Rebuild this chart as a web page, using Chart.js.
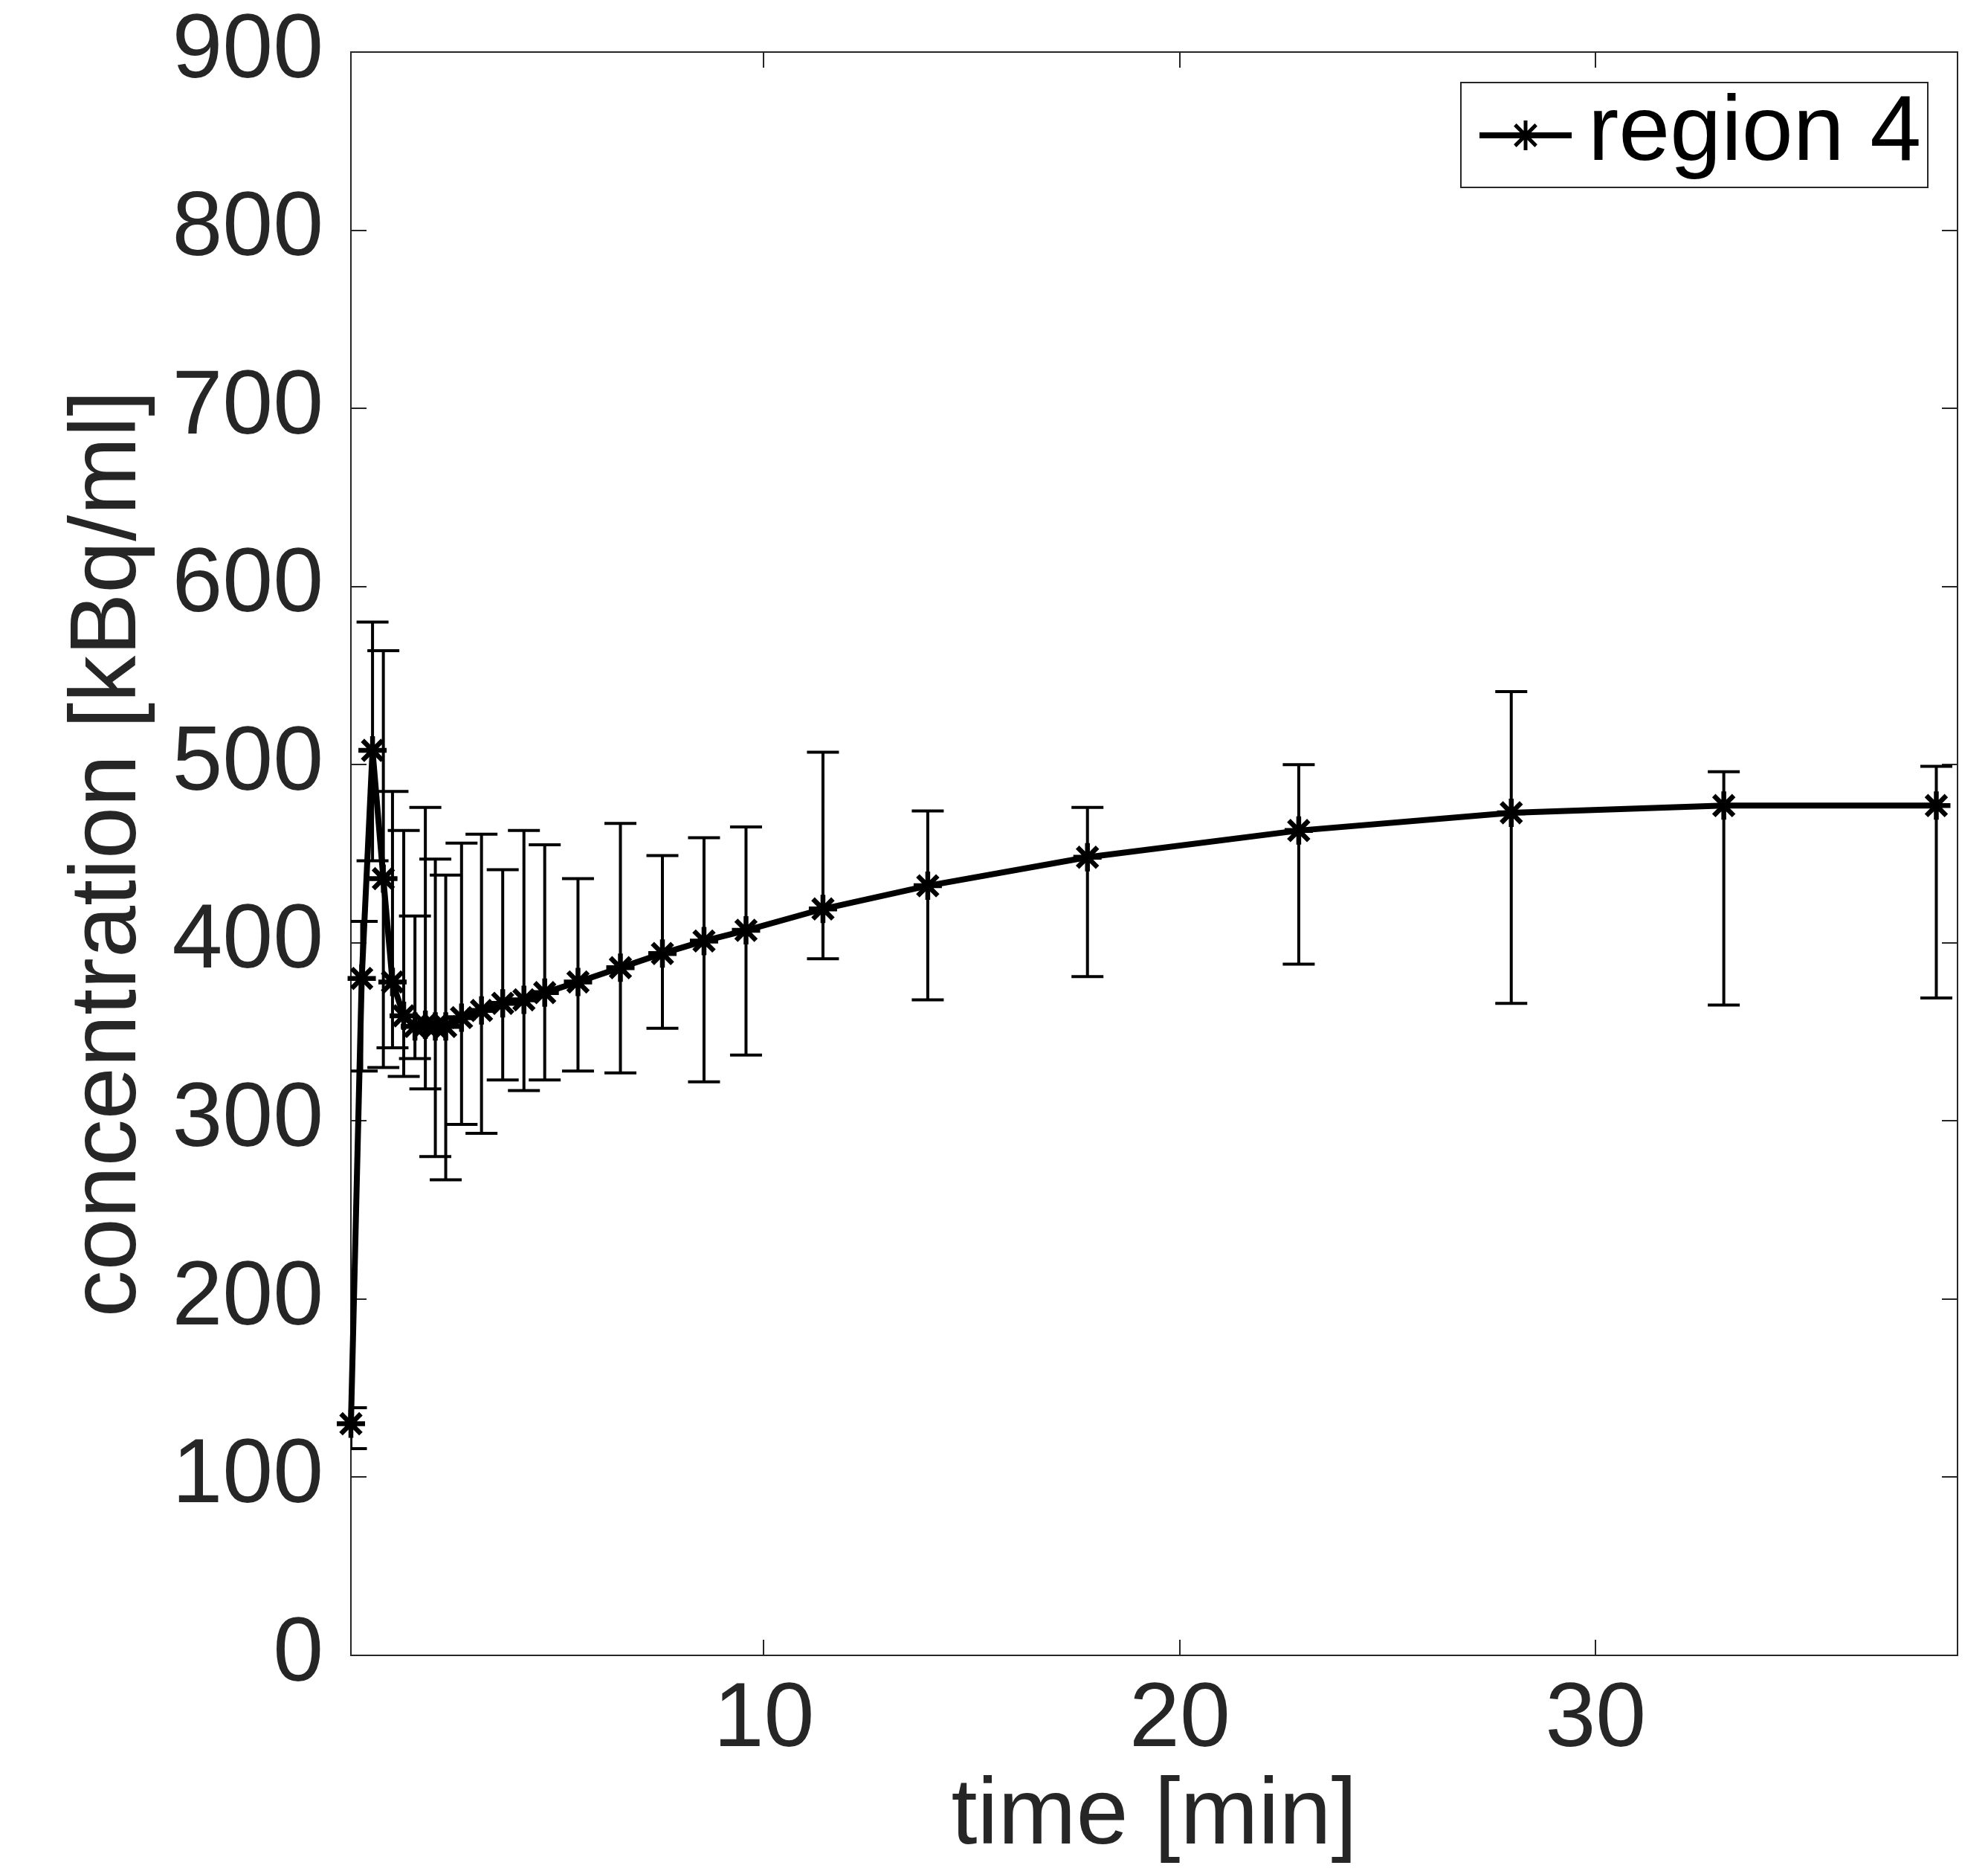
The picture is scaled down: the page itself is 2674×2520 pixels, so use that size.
<!DOCTYPE html>
<html><head><meta charset="utf-8">
<script src="https://cdn.jsdelivr.net/npm/chart.js@4.4.1/dist/chart.umd.min.js"></script>
<style>html,body{margin:0;padding:0;background:#fff;}canvas{display:block;}</style>
</head><body>
<canvas id="c" width="2674" height="2520"></canvas>
<script>
// ---- data ----
const seriesLabel = 'region 4';
const timeMin = [0.07, 0.33, 0.59, 0.85, 1.07, 1.34, 1.61, 1.86, 2.10, 2.35, 2.73, 3.21, 3.72, 4.23, 4.73, 5.53, 6.55, 7.56, 8.56, 9.57, 11.42, 13.94, 17.78, 22.86, 27.97, 33.08, 38.19];
const concentration = [130, 380, 508, 436, 378, 359, 353, 354, 353, 353, 358, 362, 366, 368, 372, 378, 386, 394, 401, 407, 419, 432, 448, 463, 473, 477, 477];
const errUpper = [139, 412, 580, 564, 485, 463, 415, 476, 447, 438, 456, 461, 441, 463, 455, 436, 467, 449, 459, 465, 507, 474, 476, 500, 541, 496, 499];
const errLower = [116, 328, 446, 330, 341, 325, 335, 318, 280, 267, 298, 293, 323, 317, 323, 328, 327, 352, 322, 337, 391, 368, 381, 388, 366, 365, 369];
const xTickValues = [10, 20, 30];
const yTickValues = [0, 100, 200, 300, 400, 500, 600, 700, 800, 900];
const xTitle = 'time [min]';
const yTitle = 'concentration [kBq/ml]';
const xMin = 0.07, xMax = 38.7, yMin = 0, yMax = 900;

const FONT = '"Liberation Sans", Arial, Helvetica, sans-serif';
const AXIS_COLOR = '#262626';
Chart.defaults.font.family = FONT;

const frameAndErrors = {
  id: 'frameAndErrors',
  beforeDatasetsDraw(chart) {
    const {ctx, chartArea: a, scales: {x, y}} = chart;
    ctx.save();
    ctx.strokeStyle = AXIS_COLOR;
    ctx.lineWidth = 2;
    ctx.strokeRect(a.left, a.top, a.right - a.left, a.bottom - a.top);
    const L = 21;
    ctx.beginPath();
    y.ticks.forEach(t => {
      const py = Math.round(y.getPixelForValue(t.value));
      ctx.moveTo(a.left, py); ctx.lineTo(a.left + L, py);
      ctx.moveTo(a.right, py); ctx.lineTo(a.right - L, py);
    });
    x.ticks.forEach(t => {
      const px = Math.round(x.getPixelForValue(t.value));
      ctx.moveTo(px, a.bottom); ctx.lineTo(px, a.bottom - L);
      ctx.moveTo(px, a.top); ctx.lineTo(px, a.top + L);
    });
    ctx.stroke();
    // error bars, clipped to the axes box
    ctx.beginPath();
    ctx.rect(a.left, a.top, a.right - a.left, a.bottom - a.top);
    ctx.clip();
    ctx.strokeStyle = '#000';
    ctx.lineWidth = 4;
    const cap = 21.5;
    ctx.beginPath();
    timeMin.forEach((t, i) => {
      const px = x.getPixelForValue(t);
      const hi = y.getPixelForValue(errUpper[i]);
      const lo = y.getPixelForValue(errLower[i]);
      ctx.moveTo(px, hi); ctx.lineTo(px, lo);
      ctx.moveTo(px - cap, hi); ctx.lineTo(px + cap, hi);
      ctx.moveTo(px - cap, lo); ctx.lineTo(px + cap, lo);
    });
    ctx.stroke();
    ctx.restore();
  }
};

const legendBox = {
  id: 'legendBox',
  afterDraw(chart) {
    const {ctx, chartArea: a} = chart;
    const ds = chart.data.datasets[0];
    const w = 628, h = 141;
    const bx = a.right - 40 - w, by = a.top + 41;
    ctx.save();
    ctx.fillStyle = '#fff';
    ctx.fillRect(bx, by, w, h);
    ctx.strokeStyle = AXIS_COLOR;
    ctx.lineWidth = 2;
    ctx.strokeRect(bx, by, w, h);
    const ly = by + 71;
    ctx.strokeStyle = '#000';
    ctx.lineWidth = 8;
    ctx.beginPath();
    ctx.moveTo(bx + 25, ly); ctx.lineTo(bx + 149, ly);
    ctx.stroke();
    const cx = bx + 87, r = 20, d = r * Math.SQRT1_2;
    ctx.lineWidth = 5;
    ctx.beginPath();
    ctx.moveTo(cx, ly - r); ctx.lineTo(cx, ly + r);
    ctx.moveTo(cx - d, ly - d); ctx.lineTo(cx + d, ly + d);
    ctx.moveTo(cx - d, ly + d); ctx.lineTo(cx + d, ly - d);
    ctx.stroke();
    ctx.fillStyle = '#000';
    ctx.font = '124px ' + FONT;
    ctx.textBaseline = 'alphabetic';
    ctx.textAlign = 'left';
    ctx.fillText(ds.label, bx + 171, by + 104);
    ctx.restore();
  }
};

new Chart(document.getElementById('c'), {
  type: 'line',
  data: {
    datasets: [{
      label: seriesLabel,
      data: timeMin.map((t, i) => ({x: t, y: concentration[i]})),
      borderColor: '#000',
      backgroundColor: '#000',
      borderWidth: 8,
      pointStyle: 'star',
      pointRadius: 19,
      pointHoverRadius: 19,
      pointBorderWidth: 6.5,
      pointBorderColor: '#000',
      pointBackgroundColor: '#000',
      tension: 0,
      fill: false,
      clip: false
    }]
  },
  options: {
    responsive: false,
    maintainAspectRatio: false,
    devicePixelRatio: 1,
    animation: false,
    events: [],
    layout: {padding: {left: 0, top: 70, right: 41, bottom: 0}},
    plugins: {legend: {display: false}, tooltip: {enabled: false}, title: {display: false}},
    scales: {
      x: {
        type: 'linear', min: xMin, max: xMax,
        grid: {display: false, drawTicks: false},
        border: {display: false},
        afterBuildTicks: s => { s.ticks = xTickValues.map(v => ({value: v})); },
        afterFit: s => { s.height = 294; s.paddingLeft = 0; s.paddingRight = 0; },
        ticks: {font: {size: 122}, color: AXIS_COLOR, padding: 15, maxRotation: 0, autoSkip: false},
        title: {display: true, text: xTitle, font: {size: 126}, color: AXIS_COLOR, padding: {top: 0, bottom: 0}}
      },
      y: {
        type: 'linear', min: yMin, max: yMax,
        grid: {display: false, drawTicks: false},
        border: {display: false},
        afterBuildTicks: s => { s.ticks = yTickValues.map(v => ({value: v})); },
        afterFit: s => { s.width = 472; s.paddingTop = 0; s.paddingBottom = 0; },
        ticks: {font: {size: 122}, color: AXIS_COLOR, padding: 37, autoSkip: false},
        title: {display: true, text: yTitle, font: {size: 126}, color: AXIS_COLOR, padding: {top: 72, bottom: 0}}
      }
    }
  },
  plugins: [frameAndErrors, legendBox]
});
</script>
</body></html>
